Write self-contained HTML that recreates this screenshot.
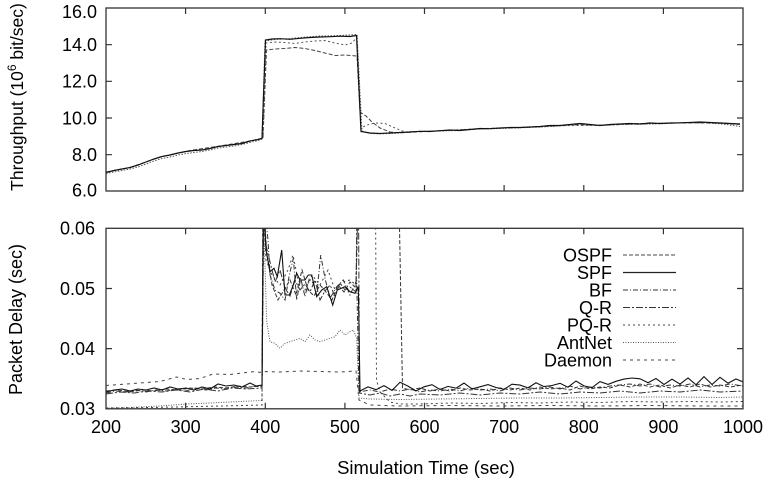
<!DOCTYPE html>
<html>
<head>
<meta charset="utf-8">
<style>
  html, body { margin: 0; padding: 0; background: #fff; }
  svg { display: block; }
  text { font-family: "Liberation Sans", Arial, Helvetica, sans-serif; fill: #000; }
</style>
</head>
<body>
<svg width="764" height="481" viewBox="0 0 764 481" xmlns="http://www.w3.org/2000/svg">
  <defs>
    <clipPath id="ctop"><rect x="106" y="8" width="637" height="183"/></clipPath>
    <clipPath id="cbot"><rect x="106" y="228.3" width="637" height="180.5"/></clipPath>
  </defs>
  <rect width="764" height="481" fill="#fff"/>

  <!-- ================= TOP PLOT ================= -->
  <g clip-path="url(#ctop)" fill="none" stroke-width="1">
    <!-- dotted slightly below -->
    <polyline stroke="#555" stroke-dasharray="1.5,1.5" points="106,173.5 114,172 122,170.5 130,169 138,167 146,164 154,161 162,158.5 170,157 178,155 186,153.5 194,152.5 202,151.5 210,150 218,148 226,147 234,146 242,144.5 250,142.5 258,140.5 262,139 265,41 275,39.5 290,38.5 300,37.5 320,36 340,35.5 357,34.5 362,131 370,133.5 380,133.8 390,133.5 400,132.8 420,131.5 440,131 460,130.5 480,129 500,128.5 520,127.8 540,127 560,126 580,124 600,125.5 620,124.5 640,124.2 660,123.8 680,123 700,122.5 720,123.8 730,125 740,126.5"/>
    <!-- dashed lower plateau -->
    <polyline stroke="#444" stroke-dasharray="4,2" points="106,172 130,167.5 160,157 190,150.5 220,146 250,141 263,138 266.5,50 275,49 285,48.5 295,47.5 305,48.5 315,50.5 325,53 335,55.5 345,55 357,56 360,112 366,116 372,122 380,128 390,132 400,132.8 420,131.7 450,130.3 480,128.8 510,127.8 540,126.8 570,124.8 600,125.2 630,123.8 660,123.3 690,122.8 720,123.2 740,124.5"/>
    <!-- dotted mid plateau -->
    <polyline stroke="#555" stroke-dasharray="2,2.5" points="263,138 266,43 275,42 285,42.5 295,43.5 305,42 315,41 325,40.5 335,43 345,45 352,43 357,37 361,128 367,125 375,123 385,123.5 395,128 405,132 415,131.5 440,130.8 480,128.6 520,127.6 560,125.7 600,125.3 640,124 680,122.9 720,122.8 740,124.2"/>
    <!-- main solid -->
    <polyline stroke="#111" stroke-width="1.2" points="106,172.5 114,170.5 122,169 130,167.5 138,165 146,162 154,159 162,156.5 170,155 178,153 186,151.5 194,150.5 202,150 210,148.5 218,146.5 226,145.5 234,144.5 242,143.5 250,141 258,139.5 262,138.5 265.5,40 272,39 280,38.7 290,39.3 300,38.3 310,37.5 320,37 330,36.7 340,36.2 350,36.5 356.5,35.5 361,131.5 370,133 380,133.5 390,133 400,132.5 410,132 420,131.3 430,131.5 440,130.7 450,130 460,130.5 470,129.5 480,128.5 490,128.7 500,128 510,127.5 520,127.5 530,127 540,126.5 550,125.5 560,125.5 570,124.5 580,123.5 590,124.5 600,125.5 610,124.5 620,124 630,123.5 640,124 650,123 660,123.5 670,123 680,122.8 690,122.5 700,122 710,122.5 720,123 730,123.5 740,124"/>
  </g>

  <!-- top frame -->
  <rect x="106" y="8" width="637" height="183" fill="none" stroke="#333" stroke-width="1.3"/>
  <g stroke="#333" stroke-width="1.2">
    <!-- x ticks top/bottom -->
    <path d="M185.6,8v6M265.3,8v6M344.9,8v6M424.5,8v6M504.1,8v6M583.8,8v6M663.4,8v6
             M185.6,191v-6M265.3,191v-6M344.9,191v-6M424.5,191v-6M504.1,191v-6M583.8,191v-6M663.4,191v-6"/>
    <!-- y ticks left/right -->
    <path d="M106,44.7h6M106,81.3h6M106,118h6M106,154.7h6
             M743,44.7h-6M743,81.3h-6M743,118h-6M743,154.7h-6"/>
  </g>
  <g font-size="18" text-anchor="end">
    <text x="97" y="18">16.0</text>
    <text x="97" y="51.1">14.0</text>
    <text x="97" y="87.7">12.0</text>
    <text x="97" y="124.4">10.0</text>
    <text x="97" y="161.1">8.0</text>
    <text x="97" y="196.5">6.0</text>
  </g>
  <text font-size="17.5" text-anchor="middle" transform="translate(23,97) rotate(-90)">Throughput (10<tspan font-size="12" dy="-7">6</tspan><tspan dy="7"> bit/sec)</tspan></text>

  <!-- ================= BOTTOM PLOT ================= -->
  <g clip-path="url(#cbot)" fill="none" stroke-width="1">
    <!-- Daemon -->
    <polyline stroke="#444" stroke-dasharray="3,4" points="106,385.5 133,383.5 160,381.5 176.7,377 186.7,379.5 200,378.5 213,374 230,374.5 253,371.7 262,372.5 266,371.5 280,372 300,371 320,371.5 340,372 356,371 359,400 370,405 400,406 450,405.5 500,406 550,405.5 600,406 650,405.5 700,406 743,406"/>
    <!-- AntNet -->
    <polyline stroke="#555" stroke-dasharray="1,1.5" points="106,408 130,407.5 160,406 186,404 210,403 240,401.5 262,400.5 263,200 266.7,321.7 270,341.7 275,343.3 280,348.3 285,343.3 290,341.7 295,340 300,338.3 305,341.7 310,335 315,340 320,341.7 325,340 330,338.3 335,336.7 340,330 345,335 350,331.7 353.3,330 356.7,338.3 359,398 370,399 400,399.5 440,399 480,398.5 520,398 560,398 600,397.5 640,397 680,397 720,397.5 743,397"/>
    <!-- PQ-R -->
    <polyline stroke="#444" stroke-dasharray="2,3" points="106,408 150,407.5 200,406.5 262,405 263,200 266,260 272,275 280,285 288,270 293,255 298,280 305,290 312,275 320,285 328,270 335,290 342,282 350,280 356,285 358,200 375.5,200 376.5,380 380,392 390,402 400,404 420,404 450,403 480,403.5 510,402.5 540,403 570,402 600,402.5 630,401.5 660,402 690,401.5 720,402 743,401.5"/>
    <!-- OSPF -->
    <polyline stroke="#333" stroke-dasharray="4,2" points="106,391 118,390 130,392 142,390 154,391 166,389 178,390 190,388 202,389 214,387 226,388 238,386 250,387 262,386 263,200 267,255 272,285 278,300 284,290 290,280 296,295 302,270 308,290 314,296 320,285 326,292 332,300 338,285 344,292 350,282 356,288 358,200 399,200 402.5,388 410,390 420,388 430,391 440,389 450,391 460,388 470,390 480,389 490,391 500,388 510,390 520,388 530,390 540,387 550,389 560,388 570,390 580,386 590,389 600,387 610,388 620,385 630,387 640,384 650,387 660,385 670,388 680,385 690,387 700,384 710,387 720,385 730,387 743,385"/>
    <!-- Q-R -->
    <polyline stroke="#333" stroke-dasharray="7,2,2,2" points="106,394 120,392 134,393 148,391 162,392 176,390 190,392 204,389 218,391 232,388 246,389 262,388 263.5,200 266,245 270,262 275,282 280,270 285,288 290,296 295,280 300,290 305,284 310,292 315,280 320,300 325,291 330,285 335,296 340,283 345,290 350,287 356,292 357,200 358.5,200 359.5,393 370,395 380,393 390,396 400,394 410,396 420,394 440,395 460,393 480,395 500,393 520,394 540,392 560,394 580,392 600,393 620,391 640,393 660,391 680,392 700,390 720,392 743,391"/>
    <!-- BF -->
    <polyline stroke="#333" stroke-dasharray="5,2,1,2" points="106,393 116,391 126,392 136,390 146,392 156,390 166,391 176,389 186,391 196,388 206,390 216,388 226,389 236,387 246,388 256,386 262,387 264,200 268,240 270,275 275,290 280,293.3 285,300 289.3,275 293.3,258.3 296.7,300 300.7,278.3 305,296.7 309.3,278.3 313.3,283.3 316.7,295 320.7,255 325,278.3 330,298.3 336.7,286.7 343.3,280 350,295 356.7,280 359,392 370,390 380,392 390,389 400,391 410,389 420,392 430,390 440,391 450,389 460,391 470,388 480,390 490,389 500,391 510,388 520,390 530,388 540,389 550,387 560,389 570,386 580,389 590,387 600,388 610,386 620,385 630,384 640,386 650,384 660,387 670,385 680,386 690,384 700,387 710,385 720,386 730,384 743,386"/>
    <!-- SPF -->
    <polyline stroke="#111" stroke-width="1.1" points="106,392 114,390 122,389 130,391 138,389 146,390 154,388 162,390 170,387 178,389 186,388 194,390 202,387 210,389 218,384 226,386 234,385 242,387 250,383 256,386 262,385 263.5,200 266,250 270,271.7 274,268.3 277.3,276.7 281.7,250 285,295 289.3,295 292.7,286.7 296.7,273.3 300,280 305,280 308.3,275 311.7,275 316.7,296.7 321.7,290 326.7,286.7 332.7,305 337.3,290 345,286.7 350,291.7 355,293.3 358.3,286.7 360,391 368,386.9 376,389.7 384,385.6 392,390.4 400,382.3 408,386.1 416,391 424,386.8 432,384.7 440,389.5 448,386.4 456,388.2 464,383.1 472,388.9 480,386.8 488,384.6 496,387.5 504,389.3 512,384.2 520,385.1 528,387.9 536,382.8 544,386.6 552,385.5 560,383.3 568,387.2 576,381 584,385.9 592,387.7 600,381.6 608,384.4 616,381.3 624,379.1 632,378 640,378.8 648,382.7 656,378.5 664,384.4 672,379.2 680,384.1 688,377.9 696,384.8 704,376.6 712,384.5 720,377.3 728,383.2 736,379 743,381.9"/>
  </g>

  <!-- bottom frame -->
  <rect x="106" y="228.3" width="637" height="180.5" fill="none" stroke="#333" stroke-width="1.3"/>
  <g stroke="#333" stroke-width="1.2">
    <path d="M185.6,228.3v6M265.3,228.3v6M344.9,228.3v6M424.5,228.3v6M504.1,228.3v6M583.8,228.3v6M663.4,228.3v6
             M185.6,408.8v-6M265.3,408.8v-6M344.9,408.8v-6M424.5,408.8v-6M504.1,408.8v-6M583.8,408.8v-6M663.4,408.8v-6"/>
    <path d="M106,288.5h6M106,348.6h6M743,288.5h-6M743,348.6h-6"/>
  </g>
  <g font-size="18" text-anchor="end">
    <text x="95" y="234.7">0.06</text>
    <text x="95" y="294.9">0.05</text>
    <text x="95" y="355">0.04</text>
    <text x="95" y="415.2">0.03</text>
  </g>
  <g font-size="18" text-anchor="middle">
    <text x="106" y="433">200</text>
    <text x="185.6" y="433">300</text>
    <text x="265.3" y="433">400</text>
    <text x="344.9" y="433">500</text>
    <text x="424.5" y="433">600</text>
    <text x="504.1" y="433">700</text>
    <text x="583.8" y="433">800</text>
    <text x="663.4" y="433">900</text>
    <text x="743" y="433">1000</text>
  </g>
  <text font-size="18" text-anchor="middle" transform="translate(22,319.5) rotate(-90)">Packet Delay (sec)</text>
  <text font-size="18.5" text-anchor="middle" x="426" y="474">Simulation Time (sec)</text>

  <!-- legend -->
  <g font-size="18" text-anchor="end">
    <text x="612" y="261.4">OSPF</text>
    <text x="612" y="278.9">SPF</text>
    <text x="612" y="296.4">BF</text>
    <text x="612" y="313.9">Q-R</text>
    <text x="612" y="331.4">PQ-R</text>
    <text x="612" y="348.9">AntNet</text>
    <text x="612" y="366.4">Daemon</text>
  </g>
  <g fill="none" stroke-width="1">
    <line x1="623" y1="255" x2="676" y2="255" stroke="#444" stroke-dasharray="4,2"/>
    <line x1="623" y1="272.5" x2="676" y2="272.5" stroke="#222" stroke-width="1.2"/>
    <line x1="623" y1="290" x2="676" y2="290" stroke="#333" stroke-dasharray="5,2,1,2"/>
    <line x1="623" y1="307.5" x2="676" y2="307.5" stroke="#333" stroke-dasharray="7,2,2,2"/>
    <line x1="623" y1="325" x2="676" y2="325" stroke="#444" stroke-dasharray="2,3"/>
    <line x1="623" y1="342.5" x2="676" y2="342.5" stroke="#555" stroke-dasharray="1,1.5"/>
    <line x1="623" y1="360" x2="676" y2="360" stroke="#444" stroke-dasharray="3,4"/>
  </g>
</svg>
</body>
</html>
